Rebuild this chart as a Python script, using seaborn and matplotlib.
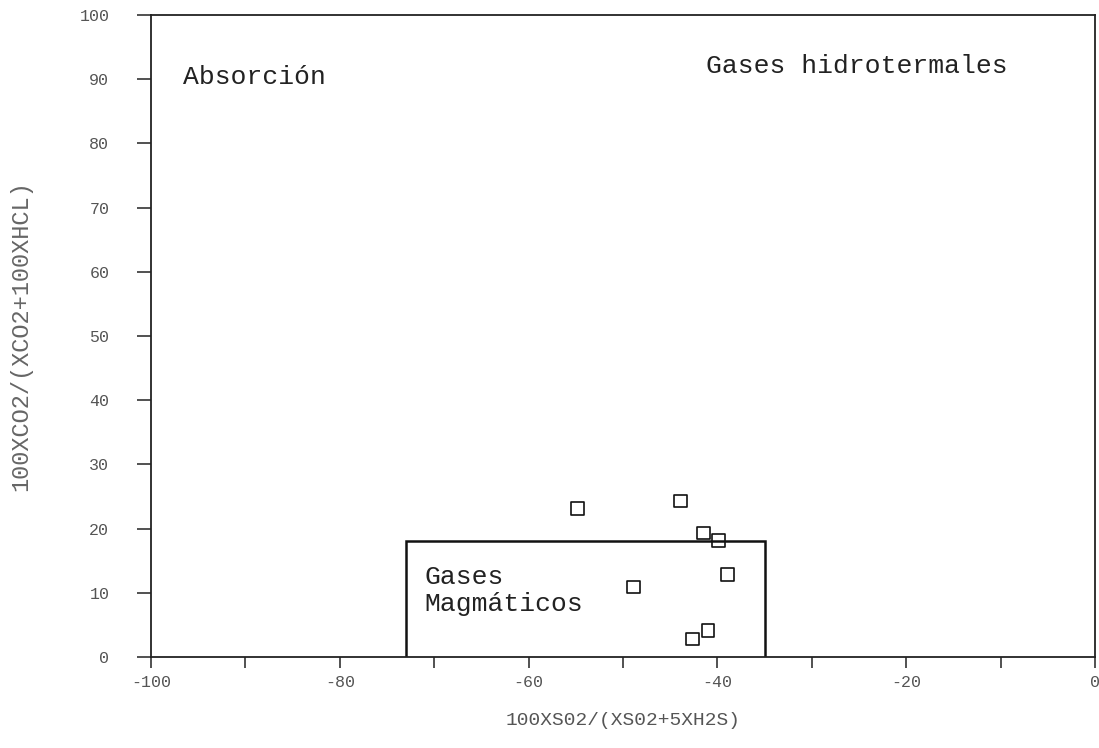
import matplotlib
matplotlib.use("Agg")
import matplotlib.pyplot as plt
import seaborn as sns
import pandas as pd

# ---- data ----
x_so2 = [-54.8, -43.9, -41.5, -39.9, -38.9, -48.9, -42.6, -41.0]
y_co2 = [23.1, 24.3, 19.3, 18.1, 12.8, 10.9, 2.8, 4.1]

magmatic_x = [-73, -35]   # x extent of the "Gases Magmáticos" field
magmatic_ymax = 18        # top of the field

x_ticks = [-100, -90, -80, -70, -60, -50, -40, -30, -20, -10, 0]
x_ticklabels = ["-100", "", "-80", "", "-60", "", "-40", "", "-20", "", "0"]
y_ticks = [0, 10, 20, 30, 40, 50, 60, 70, 80, 90, 100]
y_ticklabels = ["0", "10", "20", "30", "40", "50", "60", "70", "80", "90", "100"]

x_label = "100XS02/(XS02+5XH2S)"
y_label = "100XCO2/(XCO2+100XHCL)"

df = pd.DataFrame({"x": x_so2, "y": y_co2})

sns.set_theme(style="white")
plt.rcParams["font.family"] = ["Liberation Mono", "DejaVu Sans Mono"]

fig = plt.figure(figsize=(10.99, 7.48), dpi=100)
ax = fig.add_axes([0.1374, 0.1217, 0.859, 0.8583])

# field boundary of magmatic gases
ax.plot([magmatic_x[0], magmatic_x[0], magmatic_x[1], magmatic_x[1]],
        [0, magmatic_ymax, magmatic_ymax, 0], color="#111111", lw=1.8,
        solid_joinstyle="miter")

sns.scatterplot(data=df, x="x", y="y", ax=ax, marker="s", s=85,
                facecolor="none", edgecolor="#111111", linewidth=1.2, zorder=3)

ax.set_xlim(-100, 0)
ax.set_ylim(0, 100)
ax.set_xticks(x_ticks)
ax.set_xticklabels(x_ticklabels)
ax.set_yticks(y_ticks)
ax.set_yticklabels(y_ticklabels)

for sp in ax.spines.values():
    sp.set_color("#222222")
    sp.set_linewidth(1.3)

ax.tick_params(axis="x", direction="out", length=8, width=1.1, color="#222222",
               labelsize=12, labelcolor="#555555", pad=5, bottom=True)
ax.tick_params(axis="y", direction="out", length=10, width=1.1, color="#222222",
               labelsize=12, labelcolor="#555555", pad=20, left=True)

ax.set_xlabel(x_label, fontsize=14, color="#555555", labelpad=16)
ax.set_ylabel(y_label, fontsize=17, color="#666666", labelpad=34)

ax.text(-96.6, 90.3, "Absorción", fontsize=19, color="#222222", va="center", ha="left")
ax.text(-41.2, 92.0, "Gases hidrotermales", fontsize=19, color="#222222", va="center", ha="left")
ax.text(-71.0, 10.3, "Gases\nMagmáticos", fontsize=19, color="#222222", va="center",
        ha="left", linespacing=1.15)

fig.savefig("out.png", dpi=100, facecolor="white")
